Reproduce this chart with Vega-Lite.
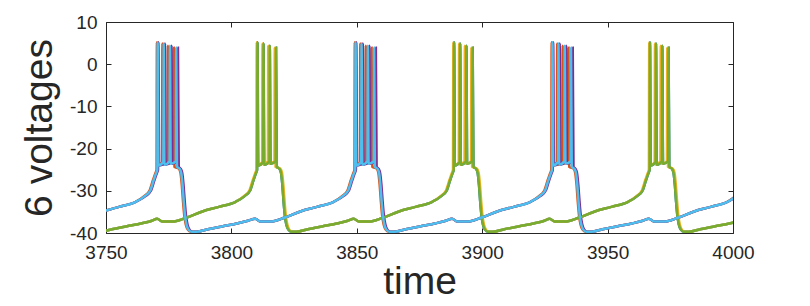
{
"$schema":"https://vega.github.io/schema/vega-lite/v6.json",
"width":627,"height":211,
"autosize":{"type":"none"},
"padding":{"left":106,"top":22,"right":77,"bottom":73},
"background":"white",
"config":{"view":{"stroke":"#262626","strokeWidth":1},"font":"Liberation Sans","axis":{"labelFont":"Liberation Sans","titleFont":"Liberation Sans","grid":false,"domain":false,"tickColor":"#262626","labelColor":"#262626","titleColor":"#262626","titleFontWeight":"normal","labelFlush":false,"labelOverlap":false}},
"resolve":{"axis":{"x":"independent","y":"independent"}},
"datasets":{
"s1":[{"t":3745.8,"v":-39.7},{"t":3747.8,"v":-39.7},{"t":3752.3,"v":-39.1},{"t":3758.3,"v":-38.4},{"t":3764.3,"v":-37.7},{"t":3768.3,"v":-37.1},{"t":3770.4,"v":-36.6},{"t":3772.4,"v":-37.3},{"t":3776.4,"v":-37.3},{"t":3781.9,"v":-36.4},{"t":3788.4,"v":-34.9},{"t":3795.0,"v":-33.8},{"t":3801.7,"v":-32.6},{"t":3805.4,"v":-31.2},{"t":3807.4,"v":-30.0},{"t":3808.8,"v":-27.5},{"t":3809.8,"v":-25.8},{"t":3810.25,"v":-25.0},{"t":3810.4,"v":5.2},{"t":3810.7,"v":-24.0},{"t":3812.65,"v":-23.2},{"t":3812.8,"v":4.9},{"t":3813.1,"v":-23.8},{"t":3815.15,"v":-23.0},{"t":3815.3,"v":4.4},{"t":3815.6,"v":-23.6},{"t":3817.65,"v":-23.0},{"t":3817.8,"v":3.9},{"t":3818.1,"v":-24.3},{"t":3819.2,"v":-24.8},{"t":3819.8,"v":-25.8},{"t":3820.3,"v":-28.5},{"t":3820.8,"v":-32.5},{"t":3821.3,"v":-35.8},{"t":3821.9,"v":-38.0},{"t":3822.7,"v":-39.2},{"t":3823.9,"v":-39.7},{"t":3825.9,"v":-39.7},{"t":3830.4,"v":-39.1},{"t":3836.4,"v":-38.4},{"t":3842.4,"v":-37.7},{"t":3846.4,"v":-37.1},{"t":3848.8,"v":-36.6},{"t":3850.8,"v":-37.3},{"t":3854.8,"v":-37.3},{"t":3860.3,"v":-36.4},{"t":3866.8,"v":-34.9},{"t":3873.4,"v":-33.8},{"t":3880.1,"v":-32.6},{"t":3883.8,"v":-31.2},{"t":3885.8,"v":-30.0},{"t":3887.2,"v":-27.5},{"t":3888.2,"v":-25.8},{"t":3888.65,"v":-25.0},{"t":3888.8,"v":5.2},{"t":3889.1,"v":-24.0},{"t":3891.05,"v":-23.2},{"t":3891.2,"v":4.9},{"t":3891.5,"v":-23.8},{"t":3893.55,"v":-23.0},{"t":3893.7,"v":4.4},{"t":3894.0,"v":-23.6},{"t":3896.05,"v":-23.0},{"t":3896.2,"v":3.9},{"t":3896.5,"v":-24.3},{"t":3897.6,"v":-24.8},{"t":3898.2,"v":-25.8},{"t":3898.7,"v":-28.5},{"t":3899.2,"v":-32.5},{"t":3899.7,"v":-35.8},{"t":3900.3,"v":-38.0},{"t":3901.1,"v":-39.2},{"t":3902.3,"v":-39.7},{"t":3904.3,"v":-39.7},{"t":3908.8,"v":-39.1},{"t":3914.8,"v":-38.4},{"t":3920.8,"v":-37.7},{"t":3924.8,"v":-37.1},{"t":3926.9,"v":-36.6},{"t":3928.9,"v":-37.3},{"t":3932.9,"v":-37.3},{"t":3938.4,"v":-36.4},{"t":3944.9,"v":-34.9},{"t":3951.5,"v":-33.8},{"t":3958.2,"v":-32.6},{"t":3961.9,"v":-31.2},{"t":3963.9,"v":-30.0},{"t":3965.3,"v":-27.5},{"t":3966.3,"v":-25.8},{"t":3966.75,"v":-25.0},{"t":3966.9,"v":5.2},{"t":3967.2,"v":-24.0},{"t":3969.15,"v":-23.2},{"t":3969.3,"v":4.9},{"t":3969.6,"v":-23.8},{"t":3971.65,"v":-23.0},{"t":3971.8,"v":4.4},{"t":3972.1,"v":-23.6},{"t":3974.15,"v":-23.0},{"t":3974.3,"v":3.9},{"t":3974.6,"v":-24.3},{"t":3975.7,"v":-24.8},{"t":3976.3,"v":-25.8},{"t":3976.8,"v":-28.5},{"t":3977.3,"v":-32.5},{"t":3977.8,"v":-35.8},{"t":3978.4,"v":-38.0},{"t":3979.2,"v":-39.2},{"t":3980.4,"v":-39.7},{"t":3982.4,"v":-39.7},{"t":3986.9,"v":-39.1},{"t":3992.9,"v":-38.4},{"t":3998.9,"v":-37.7},{"t":4002.9,"v":-37.1}],
"s2":[{"t":3748.6,"v":-34.9},{"t":3755.2,"v":-33.8},{"t":3761.9,"v":-32.6},{"t":3765.3,"v":-31.2},{"t":3767.3,"v":-30.0},{"t":3768.7,"v":-27.5},{"t":3769.7,"v":-25.8},{"t":3770.15,"v":-25.0},{"t":3770.3,"v":5.2},{"t":3770.6,"v":-24.0},{"t":3772.35,"v":-23.2},{"t":3772.5,"v":4.9},{"t":3772.8,"v":-23.8},{"t":3774.55,"v":-23.0},{"t":3774.7,"v":4.4},{"t":3775.0,"v":-23.6},{"t":3776.85,"v":-23.0},{"t":3777.0,"v":3.9},{"t":3777.3,"v":-24.3},{"t":3779.1,"v":-24.8},{"t":3779.7,"v":-25.8},{"t":3780.2,"v":-28.5},{"t":3780.7,"v":-32.5},{"t":3781.2,"v":-35.8},{"t":3781.8,"v":-38.0},{"t":3782.6,"v":-39.2},{"t":3783.8,"v":-39.7},{"t":3786.1,"v":-39.7},{"t":3790.6,"v":-39.1},{"t":3796.6,"v":-38.4},{"t":3802.6,"v":-37.7},{"t":3806.6,"v":-37.1},{"t":3809.5,"v":-36.6},{"t":3811.5,"v":-37.3},{"t":3815.5,"v":-37.3},{"t":3821.0,"v":-36.4},{"t":3827.5,"v":-34.9},{"t":3834.1,"v":-33.8},{"t":3840.8,"v":-32.6},{"t":3844.2,"v":-31.2},{"t":3846.2,"v":-30.0},{"t":3847.6,"v":-27.5},{"t":3848.6,"v":-25.8},{"t":3849.05,"v":-25.0},{"t":3849.2,"v":5.2},{"t":3849.5,"v":-24.0},{"t":3851.25,"v":-23.2},{"t":3851.4,"v":4.9},{"t":3851.7,"v":-23.8},{"t":3853.45,"v":-23.0},{"t":3853.6,"v":4.4},{"t":3853.9,"v":-23.6},{"t":3855.75,"v":-23.0},{"t":3855.9,"v":3.9},{"t":3856.2,"v":-24.3},{"t":3858.0,"v":-24.8},{"t":3858.6,"v":-25.8},{"t":3859.1,"v":-28.5},{"t":3859.6,"v":-32.5},{"t":3860.1,"v":-35.8},{"t":3860.7,"v":-38.0},{"t":3861.5,"v":-39.2},{"t":3862.7,"v":-39.7},{"t":3865.0,"v":-39.7},{"t":3869.5,"v":-39.1},{"t":3875.5,"v":-38.4},{"t":3881.5,"v":-37.7},{"t":3885.5,"v":-37.1},{"t":3888.0,"v":-36.6},{"t":3890.0,"v":-37.3},{"t":3894.0,"v":-37.3},{"t":3899.5,"v":-36.4},{"t":3906.0,"v":-34.9},{"t":3912.6,"v":-33.8},{"t":3919.3,"v":-32.6},{"t":3922.7,"v":-31.2},{"t":3924.7,"v":-30.0},{"t":3926.1,"v":-27.5},{"t":3927.1,"v":-25.8},{"t":3927.55,"v":-25.0},{"t":3927.7,"v":5.2},{"t":3928.0,"v":-24.0},{"t":3929.75,"v":-23.2},{"t":3929.9,"v":4.9},{"t":3930.2,"v":-23.8},{"t":3931.95,"v":-23.0},{"t":3932.1,"v":4.4},{"t":3932.4,"v":-23.6},{"t":3934.25,"v":-23.0},{"t":3934.4,"v":3.9},{"t":3934.7,"v":-24.3},{"t":3936.5,"v":-24.8},{"t":3937.1,"v":-25.8},{"t":3937.6,"v":-28.5},{"t":3938.1,"v":-32.5},{"t":3938.6,"v":-35.8},{"t":3939.2,"v":-38.0},{"t":3940.0,"v":-39.2},{"t":3941.2,"v":-39.7},{"t":3943.5,"v":-39.7},{"t":3948.0,"v":-39.1},{"t":3954.0,"v":-38.4},{"t":3960.0,"v":-37.7},{"t":3964.0,"v":-37.1},{"t":3966.5,"v":-36.6},{"t":3968.5,"v":-37.3},{"t":3972.5,"v":-37.3},{"t":3978.0,"v":-36.4},{"t":3984.5,"v":-34.9},{"t":3991.1,"v":-33.8},{"t":3997.8,"v":-32.6},{"t":4001.2,"v":-31.2}],
"s3":[{"t":3746.2,"v":-39.7},{"t":3747.8,"v":-39.7},{"t":3752.3,"v":-39.1},{"t":3758.3,"v":-38.4},{"t":3764.3,"v":-37.7},{"t":3768.3,"v":-37.1},{"t":3770.4,"v":-36.6},{"t":3772.4,"v":-37.3},{"t":3776.4,"v":-37.3},{"t":3781.9,"v":-36.4},{"t":3788.4,"v":-34.9},{"t":3795.0,"v":-33.8},{"t":3801.7,"v":-32.6},{"t":3805.1,"v":-31.2},{"t":3807.1,"v":-30.0},{"t":3808.5,"v":-27.5},{"t":3809.5,"v":-25.8},{"t":3809.95,"v":-25.0},{"t":3810.1,"v":5.2},{"t":3810.4,"v":-24.0},{"t":3812.25,"v":-23.2},{"t":3812.4,"v":4.9},{"t":3812.7,"v":-23.8},{"t":3814.55,"v":-23.0},{"t":3814.7,"v":4.4},{"t":3815.0,"v":-23.6},{"t":3817.15,"v":-23.0},{"t":3817.3,"v":3.9},{"t":3817.6,"v":-24.3},{"t":3819.6,"v":-24.8},{"t":3820.2,"v":-25.8},{"t":3820.7,"v":-28.5},{"t":3821.2,"v":-32.5},{"t":3821.7,"v":-35.8},{"t":3822.3,"v":-38.0},{"t":3823.1,"v":-39.2},{"t":3824.3,"v":-39.7},{"t":3825.9,"v":-39.7},{"t":3830.4,"v":-39.1},{"t":3836.4,"v":-38.4},{"t":3842.4,"v":-37.7},{"t":3846.4,"v":-37.1},{"t":3848.8,"v":-36.6},{"t":3850.8,"v":-37.3},{"t":3854.8,"v":-37.3},{"t":3860.3,"v":-36.4},{"t":3866.8,"v":-34.9},{"t":3873.4,"v":-33.8},{"t":3880.1,"v":-32.6},{"t":3883.5,"v":-31.2},{"t":3885.5,"v":-30.0},{"t":3886.9,"v":-27.5},{"t":3887.9,"v":-25.8},{"t":3888.35,"v":-25.0},{"t":3888.5,"v":5.2},{"t":3888.8,"v":-24.0},{"t":3890.65,"v":-23.2},{"t":3890.8,"v":4.9},{"t":3891.1,"v":-23.8},{"t":3892.95,"v":-23.0},{"t":3893.1,"v":4.4},{"t":3893.4,"v":-23.6},{"t":3895.55,"v":-23.0},{"t":3895.7,"v":3.9},{"t":3896.0,"v":-24.3},{"t":3898.0,"v":-24.8},{"t":3898.6,"v":-25.8},{"t":3899.1,"v":-28.5},{"t":3899.6,"v":-32.5},{"t":3900.1,"v":-35.8},{"t":3900.7,"v":-38.0},{"t":3901.5,"v":-39.2},{"t":3902.7,"v":-39.7},{"t":3904.3,"v":-39.7},{"t":3908.8,"v":-39.1},{"t":3914.8,"v":-38.4},{"t":3920.8,"v":-37.7},{"t":3924.8,"v":-37.1},{"t":3926.9,"v":-36.6},{"t":3928.9,"v":-37.3},{"t":3932.9,"v":-37.3},{"t":3938.4,"v":-36.4},{"t":3944.9,"v":-34.9},{"t":3951.5,"v":-33.8},{"t":3958.2,"v":-32.6},{"t":3961.6,"v":-31.2},{"t":3963.6,"v":-30.0},{"t":3965.0,"v":-27.5},{"t":3966.0,"v":-25.8},{"t":3966.45,"v":-25.0},{"t":3966.6,"v":5.2},{"t":3966.9,"v":-24.0},{"t":3968.75,"v":-23.2},{"t":3968.9,"v":4.9},{"t":3969.2,"v":-23.8},{"t":3971.05,"v":-23.0},{"t":3971.2,"v":4.4},{"t":3971.5,"v":-23.6},{"t":3973.65,"v":-23.0},{"t":3973.8,"v":3.9},{"t":3974.1,"v":-24.3},{"t":3976.1,"v":-24.8},{"t":3976.7,"v":-25.8},{"t":3977.2,"v":-28.5},{"t":3977.7,"v":-32.5},{"t":3978.2,"v":-35.8},{"t":3978.8,"v":-38.0},{"t":3979.6,"v":-39.2},{"t":3980.8,"v":-39.7},{"t":3982.4,"v":-39.7},{"t":3986.9,"v":-39.1},{"t":3992.9,"v":-38.4},{"t":3998.9,"v":-37.7},{"t":4002.9,"v":-37.1}],
"s4":[{"t":3748.6,"v":-34.9},{"t":3755.2,"v":-33.8},{"t":3761.9,"v":-32.6},{"t":3765.9,"v":-31.2},{"t":3767.9,"v":-30.0},{"t":3769.3,"v":-27.5},{"t":3770.3,"v":-25.8},{"t":3770.75,"v":-25.0},{"t":3770.9,"v":5.2},{"t":3771.2,"v":-24.0},{"t":3773.35,"v":-23.2},{"t":3773.5,"v":4.9},{"t":3773.8,"v":-23.8},{"t":3775.95,"v":-23.0},{"t":3776.1,"v":4.4},{"t":3776.4,"v":-23.6},{"t":3778.55,"v":-23.0},{"t":3778.7,"v":3.9},{"t":3779.0,"v":-24.3},{"t":3779.8,"v":-24.8},{"t":3780.4,"v":-25.8},{"t":3780.9,"v":-28.5},{"t":3781.4,"v":-32.5},{"t":3781.9,"v":-35.8},{"t":3782.5,"v":-38.0},{"t":3783.3,"v":-39.2},{"t":3784.5,"v":-39.7},{"t":3786.1,"v":-39.7},{"t":3790.6,"v":-39.1},{"t":3796.6,"v":-38.4},{"t":3802.6,"v":-37.7},{"t":3806.6,"v":-37.1},{"t":3809.5,"v":-36.6},{"t":3811.5,"v":-37.3},{"t":3815.5,"v":-37.3},{"t":3821.0,"v":-36.4},{"t":3827.5,"v":-34.9},{"t":3834.1,"v":-33.8},{"t":3840.8,"v":-32.6},{"t":3844.8,"v":-31.2},{"t":3846.8,"v":-30.0},{"t":3848.2,"v":-27.5},{"t":3849.2,"v":-25.8},{"t":3849.65,"v":-25.0},{"t":3849.8,"v":5.2},{"t":3850.1,"v":-24.0},{"t":3852.25,"v":-23.2},{"t":3852.4,"v":4.9},{"t":3852.7,"v":-23.8},{"t":3854.85,"v":-23.0},{"t":3855.0,"v":4.4},{"t":3855.3,"v":-23.6},{"t":3857.45,"v":-23.0},{"t":3857.6,"v":3.9},{"t":3857.9,"v":-24.3},{"t":3858.7,"v":-24.8},{"t":3859.3,"v":-25.8},{"t":3859.8,"v":-28.5},{"t":3860.3,"v":-32.5},{"t":3860.8,"v":-35.8},{"t":3861.4,"v":-38.0},{"t":3862.2,"v":-39.2},{"t":3863.4,"v":-39.7},{"t":3865.0,"v":-39.7},{"t":3869.5,"v":-39.1},{"t":3875.5,"v":-38.4},{"t":3881.5,"v":-37.7},{"t":3885.5,"v":-37.1},{"t":3888.0,"v":-36.6},{"t":3890.0,"v":-37.3},{"t":3894.0,"v":-37.3},{"t":3899.5,"v":-36.4},{"t":3906.0,"v":-34.9},{"t":3912.6,"v":-33.8},{"t":3919.3,"v":-32.6},{"t":3923.3,"v":-31.2},{"t":3925.3,"v":-30.0},{"t":3926.7,"v":-27.5},{"t":3927.7,"v":-25.8},{"t":3928.15,"v":-25.0},{"t":3928.3,"v":5.2},{"t":3928.6,"v":-24.0},{"t":3930.75,"v":-23.2},{"t":3930.9,"v":4.9},{"t":3931.2,"v":-23.8},{"t":3933.35,"v":-23.0},{"t":3933.5,"v":4.4},{"t":3933.8,"v":-23.6},{"t":3935.95,"v":-23.0},{"t":3936.1,"v":3.9},{"t":3936.4,"v":-24.3},{"t":3937.2,"v":-24.8},{"t":3937.8,"v":-25.8},{"t":3938.3,"v":-28.5},{"t":3938.8,"v":-32.5},{"t":3939.3,"v":-35.8},{"t":3939.9,"v":-38.0},{"t":3940.7,"v":-39.2},{"t":3941.9,"v":-39.7},{"t":3943.5,"v":-39.7},{"t":3948.0,"v":-39.1},{"t":3954.0,"v":-38.4},{"t":3960.0,"v":-37.7},{"t":3964.0,"v":-37.1},{"t":3966.5,"v":-36.6},{"t":3968.5,"v":-37.3},{"t":3972.5,"v":-37.3},{"t":3978.0,"v":-36.4},{"t":3984.5,"v":-34.9},{"t":3991.1,"v":-33.8},{"t":3997.8,"v":-32.6},{"t":4001.8,"v":-31.2}],
"s5":[{"t":3745.8,"v":-39.7},{"t":3747.8,"v":-39.7},{"t":3752.3,"v":-39.1},{"t":3758.3,"v":-38.4},{"t":3764.3,"v":-37.7},{"t":3768.3,"v":-37.1},{"t":3770.4,"v":-36.6},{"t":3772.4,"v":-37.3},{"t":3776.4,"v":-37.3},{"t":3781.9,"v":-36.4},{"t":3788.4,"v":-34.9},{"t":3795.0,"v":-33.8},{"t":3801.7,"v":-32.6},{"t":3805.4,"v":-31.2},{"t":3807.4,"v":-30.0},{"t":3808.8,"v":-27.5},{"t":3809.8,"v":-25.8},{"t":3810.25,"v":-25.0},{"t":3810.4,"v":5.2},{"t":3810.7,"v":-24.0},{"t":3812.65,"v":-23.2},{"t":3812.8,"v":4.9},{"t":3813.1,"v":-23.8},{"t":3815.15,"v":-23.0},{"t":3815.3,"v":4.4},{"t":3815.6,"v":-23.6},{"t":3817.65,"v":-23.0},{"t":3817.8,"v":3.9},{"t":3818.1,"v":-24.3},{"t":3819.2,"v":-24.8},{"t":3819.8,"v":-25.8},{"t":3820.3,"v":-28.5},{"t":3820.8,"v":-32.5},{"t":3821.3,"v":-35.8},{"t":3821.9,"v":-38.0},{"t":3822.7,"v":-39.2},{"t":3823.9,"v":-39.7},{"t":3825.9,"v":-39.7},{"t":3830.4,"v":-39.1},{"t":3836.4,"v":-38.4},{"t":3842.4,"v":-37.7},{"t":3846.4,"v":-37.1},{"t":3848.8,"v":-36.6},{"t":3850.8,"v":-37.3},{"t":3854.8,"v":-37.3},{"t":3860.3,"v":-36.4},{"t":3866.8,"v":-34.9},{"t":3873.4,"v":-33.8},{"t":3880.1,"v":-32.6},{"t":3883.8,"v":-31.2},{"t":3885.8,"v":-30.0},{"t":3887.2,"v":-27.5},{"t":3888.2,"v":-25.8},{"t":3888.65,"v":-25.0},{"t":3888.8,"v":5.2},{"t":3889.1,"v":-24.0},{"t":3891.05,"v":-23.2},{"t":3891.2,"v":4.9},{"t":3891.5,"v":-23.8},{"t":3893.55,"v":-23.0},{"t":3893.7,"v":4.4},{"t":3894.0,"v":-23.6},{"t":3896.05,"v":-23.0},{"t":3896.2,"v":3.9},{"t":3896.5,"v":-24.3},{"t":3897.6,"v":-24.8},{"t":3898.2,"v":-25.8},{"t":3898.7,"v":-28.5},{"t":3899.2,"v":-32.5},{"t":3899.7,"v":-35.8},{"t":3900.3,"v":-38.0},{"t":3901.1,"v":-39.2},{"t":3902.3,"v":-39.7},{"t":3904.3,"v":-39.7},{"t":3908.8,"v":-39.1},{"t":3914.8,"v":-38.4},{"t":3920.8,"v":-37.7},{"t":3924.8,"v":-37.1},{"t":3926.9,"v":-36.6},{"t":3928.9,"v":-37.3},{"t":3932.9,"v":-37.3},{"t":3938.4,"v":-36.4},{"t":3944.9,"v":-34.9},{"t":3951.5,"v":-33.8},{"t":3958.2,"v":-32.6},{"t":3961.9,"v":-31.2},{"t":3963.9,"v":-30.0},{"t":3965.3,"v":-27.5},{"t":3966.3,"v":-25.8},{"t":3966.75,"v":-25.0},{"t":3966.9,"v":5.2},{"t":3967.2,"v":-24.0},{"t":3969.15,"v":-23.2},{"t":3969.3,"v":4.9},{"t":3969.6,"v":-23.8},{"t":3971.65,"v":-23.0},{"t":3971.8,"v":4.4},{"t":3972.1,"v":-23.6},{"t":3974.15,"v":-23.0},{"t":3974.3,"v":3.9},{"t":3974.6,"v":-24.3},{"t":3975.7,"v":-24.8},{"t":3976.3,"v":-25.8},{"t":3976.8,"v":-28.5},{"t":3977.3,"v":-32.5},{"t":3977.8,"v":-35.8},{"t":3978.4,"v":-38.0},{"t":3979.2,"v":-39.2},{"t":3980.4,"v":-39.7},{"t":3982.4,"v":-39.7},{"t":3986.9,"v":-39.1},{"t":3992.9,"v":-38.4},{"t":3998.9,"v":-37.7},{"t":4002.9,"v":-37.1}],
"s6":[{"t":3748.6,"v":-34.9},{"t":3755.2,"v":-33.8},{"t":3761.9,"v":-32.6},{"t":3765.6,"v":-31.2},{"t":3767.6,"v":-30.0},{"t":3769.0,"v":-27.5},{"t":3770.0,"v":-25.8},{"t":3770.45,"v":-25.0},{"t":3770.6,"v":5.2},{"t":3770.9,"v":-24.0},{"t":3772.85,"v":-23.2},{"t":3773.0,"v":4.9},{"t":3773.3,"v":-23.8},{"t":3775.35,"v":-23.0},{"t":3775.5,"v":4.4},{"t":3775.8,"v":-23.6},{"t":3777.85,"v":-23.0},{"t":3778.0,"v":3.9},{"t":3778.3,"v":-24.3},{"t":3779.4,"v":-24.8},{"t":3780.0,"v":-25.8},{"t":3780.5,"v":-28.5},{"t":3781.0,"v":-32.5},{"t":3781.5,"v":-35.8},{"t":3782.1,"v":-38.0},{"t":3782.9,"v":-39.2},{"t":3784.1,"v":-39.7},{"t":3786.1,"v":-39.7},{"t":3790.6,"v":-39.1},{"t":3796.6,"v":-38.4},{"t":3802.6,"v":-37.7},{"t":3806.6,"v":-37.1},{"t":3809.5,"v":-36.6},{"t":3811.5,"v":-37.3},{"t":3815.5,"v":-37.3},{"t":3821.0,"v":-36.4},{"t":3827.5,"v":-34.9},{"t":3834.1,"v":-33.8},{"t":3840.8,"v":-32.6},{"t":3844.5,"v":-31.2},{"t":3846.5,"v":-30.0},{"t":3847.9,"v":-27.5},{"t":3848.9,"v":-25.8},{"t":3849.35,"v":-25.0},{"t":3849.5,"v":5.2},{"t":3849.8,"v":-24.0},{"t":3851.75,"v":-23.2},{"t":3851.9,"v":4.9},{"t":3852.2,"v":-23.8},{"t":3854.25,"v":-23.0},{"t":3854.4,"v":4.4},{"t":3854.7,"v":-23.6},{"t":3856.75,"v":-23.0},{"t":3856.9,"v":3.9},{"t":3857.2,"v":-24.3},{"t":3858.3,"v":-24.8},{"t":3858.9,"v":-25.8},{"t":3859.4,"v":-28.5},{"t":3859.9,"v":-32.5},{"t":3860.4,"v":-35.8},{"t":3861.0,"v":-38.0},{"t":3861.8,"v":-39.2},{"t":3863.0,"v":-39.7},{"t":3865.0,"v":-39.7},{"t":3869.5,"v":-39.1},{"t":3875.5,"v":-38.4},{"t":3881.5,"v":-37.7},{"t":3885.5,"v":-37.1},{"t":3888.0,"v":-36.6},{"t":3890.0,"v":-37.3},{"t":3894.0,"v":-37.3},{"t":3899.5,"v":-36.4},{"t":3906.0,"v":-34.9},{"t":3912.6,"v":-33.8},{"t":3919.3,"v":-32.6},{"t":3923.0,"v":-31.2},{"t":3925.0,"v":-30.0},{"t":3926.4,"v":-27.5},{"t":3927.4,"v":-25.8},{"t":3927.85,"v":-25.0},{"t":3928.0,"v":5.2},{"t":3928.3,"v":-24.0},{"t":3930.25,"v":-23.2},{"t":3930.4,"v":4.9},{"t":3930.7,"v":-23.8},{"t":3932.75,"v":-23.0},{"t":3932.9,"v":4.4},{"t":3933.2,"v":-23.6},{"t":3935.25,"v":-23.0},{"t":3935.4,"v":3.9},{"t":3935.7,"v":-24.3},{"t":3936.8,"v":-24.8},{"t":3937.4,"v":-25.8},{"t":3937.9,"v":-28.5},{"t":3938.4,"v":-32.5},{"t":3938.9,"v":-35.8},{"t":3939.5,"v":-38.0},{"t":3940.3,"v":-39.2},{"t":3941.5,"v":-39.7},{"t":3943.5,"v":-39.7},{"t":3948.0,"v":-39.1},{"t":3954.0,"v":-38.4},{"t":3960.0,"v":-37.7},{"t":3964.0,"v":-37.1},{"t":3966.5,"v":-36.6},{"t":3968.5,"v":-37.3},{"t":3972.5,"v":-37.3},{"t":3978.0,"v":-36.4},{"t":3984.5,"v":-34.9},{"t":3991.1,"v":-33.8},{"t":3997.8,"v":-32.6},{"t":4001.5,"v":-31.2}]
},
"layer":[
{"data":{"name":"s1"},"mark":{"type":"line","color":"#0072BD","strokeWidth":2.5,"clip":true,"interpolate":"monotone"},
 "encoding":{"x":{"field":"t","type":"quantitative","scale":{"domain":[3750,4000],"nice":false,"zero":false},"axis":{"orient":"top","values":[3750,3800,3850,3900,3950,4000],"labels":false,"title":null,"tickSize":-5}},
 "y":{"field":"v","type":"quantitative","scale":{"domain":[-40,10],"nice":false,"zero":false},"axis":{"orient":"right","values":[-40,-30,-20,-10,0,10],"labels":false,"title":null,"tickSize":-5}}}},
{"data":{"name":"s2"},"mark":{"type":"line","color":"#D95319","strokeWidth":2.5,"clip":true,"interpolate":"monotone"},
 "encoding":{"x":{"field":"t","type":"quantitative","scale":{"domain":[3750,4000],"nice":false,"zero":false},"axis":{"orient":"bottom","values":[3750,3800,3850,3900,3950,4000],"tickSize":-5,"labelFontSize":19,"labelPadding":15,"labelExpr":"'' + datum.value","title":"time","titleFontSize":39,"titlePadding":0}},
 "y":{"field":"v","type":"quantitative","scale":{"domain":[-40,10],"nice":false,"zero":false},"axis":{"orient":"left","values":[-40,-30,-20,-10,0,10],"tickSize":-5,"labelFontSize":19,"labelPadding":14,"labelExpr":"'' + datum.value","title":"6 voltages","titleFontSize":39,"titlePadding":10}}}},
{"data":{"name":"s3"},"mark":{"type":"line","color":"#EDB120","strokeWidth":2.5,"clip":true,"interpolate":"monotone"},
 "encoding":{"x":{"field":"t","type":"quantitative","scale":{"domain":[3750,4000],"nice":false,"zero":false},"axis":null},"y":{"field":"v","type":"quantitative","scale":{"domain":[-40,10],"nice":false,"zero":false},"axis":null}}},
{"data":{"name":"s4"},"mark":{"type":"line","color":"#7E2F8E","strokeWidth":2.5,"clip":true,"interpolate":"monotone"},
 "encoding":{"x":{"field":"t","type":"quantitative","scale":{"domain":[3750,4000],"nice":false,"zero":false},"axis":null},"y":{"field":"v","type":"quantitative","scale":{"domain":[-40,10],"nice":false,"zero":false},"axis":null}}},
{"data":{"name":"s5"},"mark":{"type":"line","color":"#77AC30","strokeWidth":2.5,"clip":true,"interpolate":"monotone"},
 "encoding":{"x":{"field":"t","type":"quantitative","scale":{"domain":[3750,4000],"nice":false,"zero":false},"axis":null},"y":{"field":"v","type":"quantitative","scale":{"domain":[-40,10],"nice":false,"zero":false},"axis":null}}},
{"data":{"name":"s6"},"mark":{"type":"line","color":"#4DBEEE","strokeWidth":2.5,"clip":true,"interpolate":"monotone"},
 "encoding":{"x":{"field":"t","type":"quantitative","scale":{"domain":[3750,4000],"nice":false,"zero":false},"axis":null},"y":{"field":"v","type":"quantitative","scale":{"domain":[-40,10],"nice":false,"zero":false},"axis":null}}}
]
}
